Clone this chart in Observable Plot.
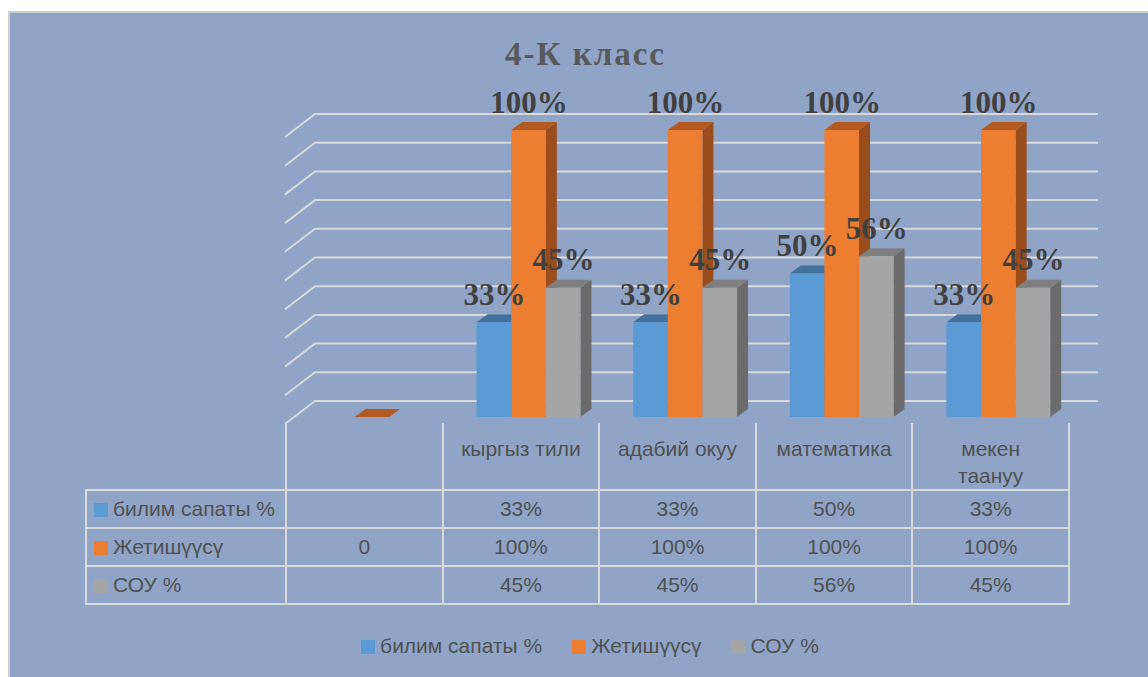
<!DOCTYPE html>
<html><head><meta charset="utf-8">
<script src="https://cdn.jsdelivr.net/npm/d3@7"></script>
<script src="https://cdn.jsdelivr.net/npm/@observablehq/plot@0.6"></script>
<style>
body{margin:0;background:#fff;}
#wrap{position:relative;width:1148px;height:677px;overflow:hidden;background:#fff;font-family:"Liberation Sans",Arial,sans-serif;}
#panel{position:absolute;left:8px;top:11px;width:1140px;height:666px;background:#8FA4C7;border-left:2px solid #D0D0D0;border-top:2px solid #D0D0D0;box-sizing:border-box;}
#title{position:absolute;left:0;top:38px;width:1171px;text-align:center;font:bold 33px/33px "Liberation Serif","Times New Roman",serif;letter-spacing:2px;color:#595959;}
#chart{position:absolute;left:0;top:85px;}
#tbl{position:absolute;left:85px;top:423px;border-collapse:collapse;table-layout:fixed;color:#505050;font-size:21px;}
#tbl td{padding:0;text-align:center;box-sizing:border-box;border:2px solid #D9D9D9;}
#tbl tr.hdr td{border-top:none;height:66px;vertical-align:top;padding-top:12px;line-height:27px;}
#tbl tr.hdr td.blank{border:none;border-right:2px solid #D9D9D9;}
#tbl tr.row td{height:38px;line-height:24px;}
#tbl td.lab{text-align:left;padding-left:7px;white-space:nowrap;}
.sw{display:inline-block;width:14px;height:14px;margin-right:5px;vertical-align:-1px;}
#legend{position:absolute;left:0;top:634px;width:1180px;text-align:center;color:#505050;font-size:21px;line-height:24px;}
#legend span.item{margin:0 15px;white-space:nowrap;}
</style></head>
<body>
<div id="wrap">
  <div id="panel"></div>
  <div id="title">4-К класс</div>
  <div id="chart"></div>
  <table id="tbl"></table>
  <div id="legend"></div>
</div>
<script>
// ---- data ----
const categories = ["", "кыргыз тили", "адабий окуу", "математика", "мекен таануу"];
const seriesNames = ["билим сапаты %", "Жетишүүсү", "СОУ %"];
const bilimSapaty = [null, 0.33, 0.33, 0.50, 0.33];
const jetishuusu  = [0, 1.00, 1.00, 1.00, 1.00];
const sou         = [null, 0.45, 0.45, 0.56, 0.45];
const gridValues  = [0, 0.1, 0.2, 0.3, 0.4, 0.5, 0.6, 0.7, 0.8, 0.9, 1.0];

// ---- styles ----
const frontColors = ["#5B9BD5", "#ED7D31", "#A5A5A5"];
const topColors   = ["#41719C", "#B35A22", "#7F7F7F"];
const sideColors  = ["#3A6690", "#9A4C1B", "#6B6B6B"];
const seriesValues = [bilimSapaty, jetishuusu, sou];
const depthX = 11, depthY = 8;          // bar depth (px)
const wallX = 30, wallY = 23;           // side wall depth (px)
const groupOffset = 0.2235, barW = 0.221; // in column units

const pct = v => v == null ? "" : (v === 0 ? "0" : Math.round(v * 100) + "%");

const rows = categories.flatMap((c, i) => seriesValues.map((vals, s) => ({
  cat: c, s, series: seriesNames[s], value: vals[i],
  x1: i + groupOffset + s * barW, x2: i + groupOffset + (s + 1) * barW
}))).filter(d => d.value != null);

const plot = Plot.plot({
  width: 1148, height: 340,
  marginLeft: 285, marginRight: 80, marginTop: 45, marginBottom: 8,
  x: {type: "linear", domain: [0, categories.length], axis: null},
  y: {domain: [0, 1], axis: null},
  style: {background: "transparent", overflow: "visible"},
  marks: [
    Plot.ruleY(gridValues, {
      y: d => d, stroke: "#D9D9D9", strokeWidth: 2,
      render(index, scales, values, dims) {
        const g = d3.create("svg:g");
        const x0 = dims.marginLeft, x1 = dims.width - dims.marginRight;
        for (const i of index) {
          const y = values.y[i];
          g.append("path")
            .attr("d", `M${x0},${y + wallY - 16}L${x0 + wallX},${y - 16}L${x1 + wallX},${y - 16}`)
            .attr("fill", "none").attr("stroke", "#D9D9D9").attr("stroke-width", 2);
        }
        return g.node();
      }
    }),
    Plot.rectY(rows, {
      x1: "x1", x2: "x2", y1: 0, y2: "value",
      render(index, scales, values) {
        const g = d3.create("svg:g");
        for (const i of index) {
          const x1 = values.x1[i], x2 = values.x2[i];
          const yt = Math.min(values.y1[i], values.y2[i]), yb = Math.max(values.y1[i], values.y2[i]);
          const s = rows[i].s;
          const poly = pts => pts.map(p => p.join(",")).join(" ");
          g.append("polygon").attr("points", poly([[x2, yt], [x2 + depthX, yt - depthY], [x2 + depthX, yb - depthY], [x2, yb]])).attr("fill", sideColors[s]);
          g.append("polygon").attr("points", poly([[x1, yt], [x2, yt], [x2 + depthX, yt - depthY], [x1 + depthX, yt - depthY]])).attr("fill", topColors[s]);
          g.append("rect").attr("x", x1).attr("y", yt).attr("width", x2 - x1).attr("height", yb - yt).attr("fill", frontColors[s]);
        }
        return g.node();
      }
    }),
    Plot.text(rows.filter(d => d.value > 0), {
      x: d => (d.x1 + d.x2) / 2, y: "value", text: d => pct(d.value),
      dy: -18, lineAnchor: "bottom", fontSize: 31, fontWeight: "bold",
      fontFamily: "Liberation Serif, Times New Roman, serif", fill: "#404040"
    })
  ]
});
document.getElementById("chart").appendChild(plot);

// ---- data table ----
const tbl = d3.select("#tbl");
const cg = tbl.append("colgroup");
cg.append("col").style("width", "200px");
categories.forEach(() => cg.append("col").style("width", "156.6px"));
const hdr = tbl.append("tr").attr("class", "hdr");
hdr.append("td").attr("class", "blank");
categories.forEach(c => {
  const td = hdr.append("td");
  if (c === "мекен таануу") td.html("мекен<br>таануу"); else td.text(c);
});
seriesNames.forEach((name, s) => {
  const tr = tbl.append("tr").attr("class", "row");
  const lab = tr.append("td").attr("class", "lab");
  lab.append("span").attr("class", "sw").style("background", frontColors[s]);
  lab.append("span").text(name);
  seriesValues[s].forEach(v => tr.append("td").text(pct(v)));
});

// ---- legend ----
const lg = d3.select("#legend");
seriesNames.forEach((name, s) => {
  const it = lg.append("span").attr("class", "item");
  it.append("span").attr("class", "sw").style("background", frontColors[s]);
  it.append("span").text(name);
});
</script>
</body></html>
